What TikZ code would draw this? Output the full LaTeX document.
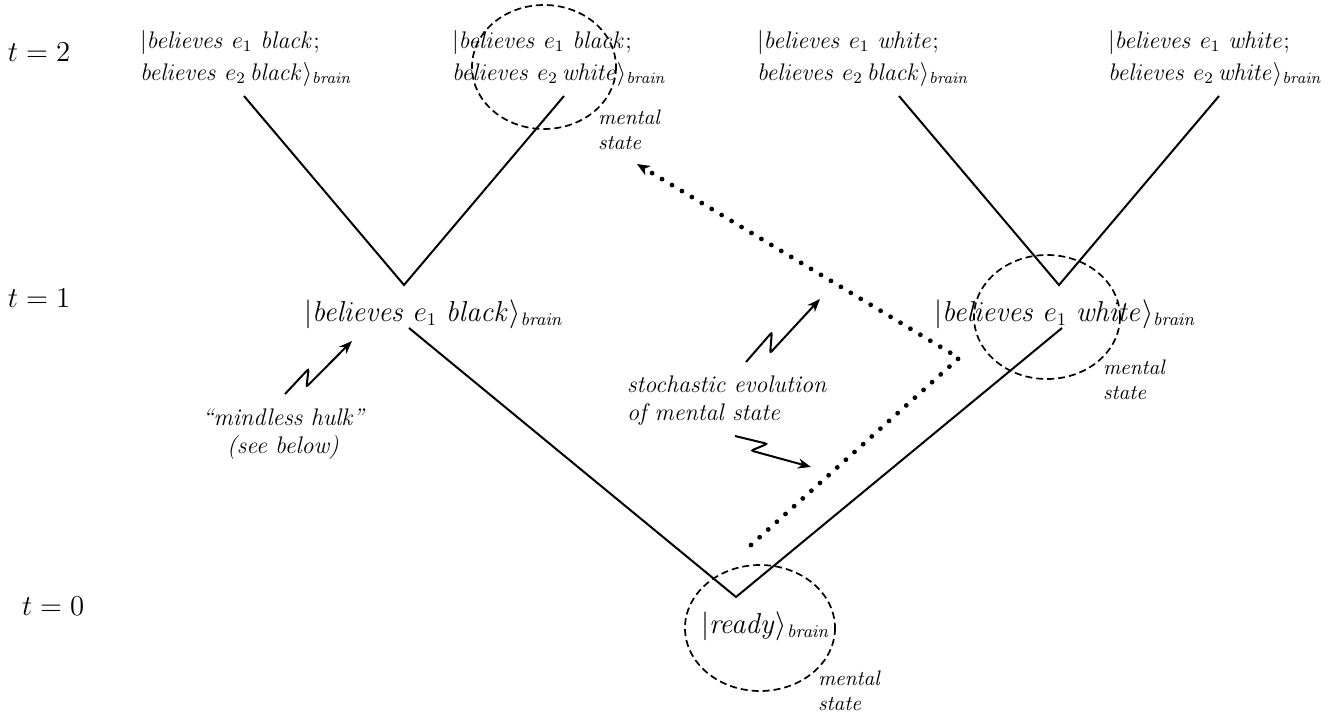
\documentclass[tikz,border=0pt]{standalone}
\usepackage{amsmath}
\usetikzlibrary{arrows.meta,calc}
\newcommand\itx[1]{\mathit{#1}}
\newcommand\mysquig[2]{\draw[squig] (#1) -- ($(#1)!0.4!(#2)!0.1!90:(#2)$) -- ($(#1)!0.25!(#2)!0.12!-90:(#2)$) -- (#2);}
\begin{document}
\begin{tikzpicture}[x=0.5pt,y=-0.5pt,
  every node/.style={inner sep=0pt, outer sep=0pt},
  tlab/.style={font=\fontsize{13.3}{15}\selectfont, anchor=base west},
  twolab/.style={font=\fontsize{12}{16}\selectfont, align=left, anchor=west},
  onelab/.style={font=\fontsize{13.3}{15}\selectfont, anchor=base west},
  note/.style={font=\fontsize{12}{14}\selectfont\itshape, align=center},
  ment/.style={font=\fontsize{10.5}{12.5}\selectfont\itshape, align=left, anchor=west},
  branch/.style={line width=1pt},
  halo/.style={draw, dash pattern=on 3.5pt off 2pt, line width=0.85pt},
  squig/.style={line width=1pt, -{Stealth[length=6.5pt,width=5pt,inset=2pt]}, rounded corners=1pt},
  evol/.style={line width=2.4pt, line cap=round, dash pattern=on 0pt off 5.8pt,
    -{Stealth[length=6.5pt,width=5.5pt,inset=2pt,line width=0pt]}}
]
\useasboundingbox (0,0) rectangle (1330,713);

% time labels
\node[tlab] (t2) at (8,61) {$t=2$};
\node[tlab] (t1) at (8,307) {$t=1$};
\node[tlab] (t0) at (22,615) {$t=0$};

% t = 2 states
\node[twolab] (A) at (140,58) {$|\itx{believes}\ e_1\ \itx{black;}$\\$\itx{believes}\ e_2\,\itx{black}\rangle_{\itx{brain}}$};
\node[twolab] (B) at (452,58) {$|\itx{believes}\ e_1\ \itx{black;}$\\$\itx{believes}\ e_2\,\itx{white}\rangle_{\itx{brain}}$};
\node[twolab] (C) at (757,58) {$|\itx{believes}\ e_1\ \itx{white;}$\\$\itx{believes}\ e_2\,\itx{black}\rangle_{\itx{brain}}$};
\node[twolab] (D) at (1108,58) {$|\itx{believes}\ e_1\ \itx{white;}$\\$\itx{believes}\ e_2\,\itx{white}\rangle_{\itx{brain}}$};

% t = 1 states
\node[onelab] (L) at (304,321) {$|\itx{believes}\ e_1\ \itx{black}\rangle_{\itx{brain}}$};
\node[onelab] (R) at (934,321) {$|\itx{believes}\ e_1\ \itx{white}\rangle_{\itx{brain}}$};

% t = 0 state
\node[onelab] (r0) at (701,633) {$|\itx{ready}\rangle_{\itx{brain}}$};

% branch points
\coordinate (a1) at (244,96);
\coordinate (a2) at (564,96);
\coordinate (vA) at (404,285);
\coordinate (a3) at (899,96);
\coordinate (a4) at (1219,96);
\coordinate (vC) at (1059,285);
\coordinate (Lb) at (409,328);
\coordinate (v0) at (736,597);
\coordinate (Rb) at (1062,328);

\draw[branch] (a1) -- (vA) -- (a2);
\draw[branch] (a3) -- (vC) -- (a4);
\draw[branch] (Lb) -- (v0) -- (Rb);

% mental state halos
\coordinate (h2) at (544,67);
\coordinate (h1) at (1047,317);
\coordinate (h0) at (760,628);
\draw[halo] (h2) ellipse [x radius=72, y radius=62];
\draw[halo] (h1) ellipse [x radius=73, y radius=62];
\draw[halo] (h0) ellipse [x radius=75, y radius=63];

\node[ment] (m2) at (598,130) {mental\\state};
\node[ment] (m1) at (1103,380) {mental\\state};
\node[ment] (m0) at (818,691) {mental\\state};

% annotations
\node[note] (hulk) at (283,434) {``mindless hulk''\\(see below)};
\node[note, align=left, anchor=west] (stoch) at (627,401) {stochastic evolution\\of mental state};

\coordinate (s1a) at (285,394);
\coordinate (s1b) at (352,341);
\coordinate (s2a) at (746,362);
\coordinate (s2b) at (820,299);
\coordinate (s3a) at (735,436);
\coordinate (s3b) at (811,467);
\mysquig{s1a}{s1b}
\mysquig{s2a}{s2b}
\mysquig{s3a}{s3b}

% stochastic path
\coordinate (d0) at (751,545);
\coordinate (dc) at (959,358);
\coordinate (dt) at (637,164);
\draw[evol] (d0) -- (dc) -- (dt);
\end{tikzpicture}
\end{document}
